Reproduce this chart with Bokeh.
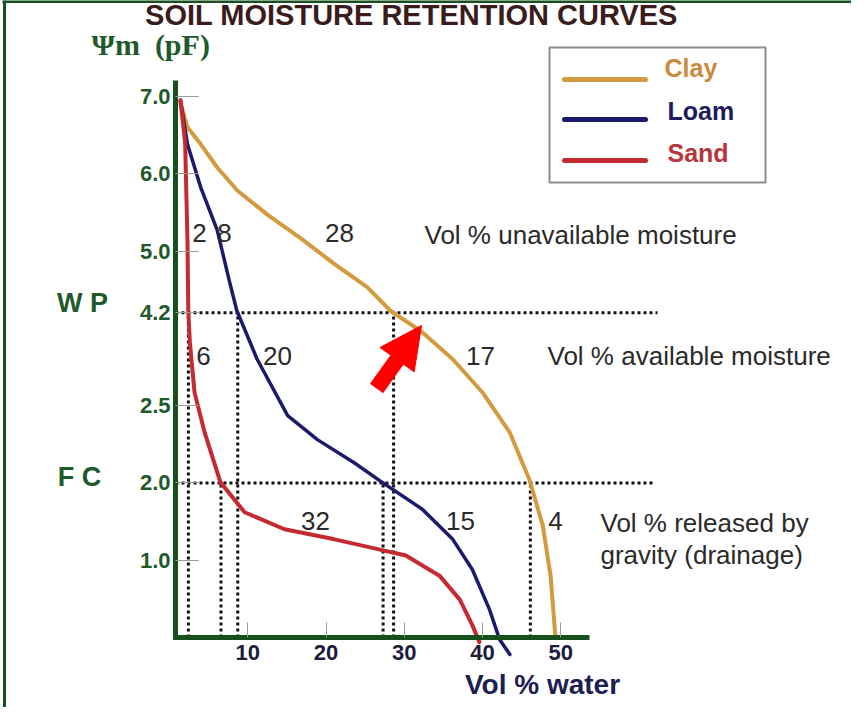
import numpy as np
from bokeh.plotting import figure
from bokeh.models import Range1d, LinearAxis, FixedTicker, Arrow, NormalHead, Grid
from bokeh.core.properties import value
from bokeh.embed import file_html
from bokeh.resources import INLINE

# ---------------- data ----------------
clay_x = [1.4, 2.3, 4.0, 6.1, 8.7, 12.5, 16.7, 21.1, 25.3, 28.2, 32.3, 36.2, 40.0, 43.5, 46.0, 47.7, 48.7, 49.3]
clay_y = [6.92, 6.60, 6.38, 6.08, 5.78, 5.47, 5.17, 4.83, 4.53, 4.23, 3.95, 3.60, 3.17, 2.65, 2.04, 1.45, 0.80, 0.03]

loam_x = [1.4, 2.3, 4.0, 6.1, 7.7, 8.6, 11.2, 15.1, 18.9, 23.6, 27.0, 32.3, 36.2, 38.7, 40.9, 42.2, 43.5]
loam_y = [6.95, 6.38, 5.82, 5.27, 4.59, 4.23, 3.60, 2.87, 2.56, 2.26, 2.02, 1.66, 1.27, 0.88, 0.36, -0.03, -0.22]

sand_x = [1.4, 2.0, 2.3, 2.4, 2.6, 3.2, 4.5, 6.5, 9.6, 14.7, 21.1, 25.9, 30.2, 34.5, 37.1, 38.7, 39.6]
sand_y = [6.95, 6.40, 5.11, 4.23, 3.82, 3.17, 2.65, 2.01, 1.62, 1.40, 1.27, 1.16, 1.06, 0.80, 0.49, 0.16, -0.06]

soil_names = ["Clay", "Loam", "Sand"]
wilting_point = 4.2
field_capacity = 2.0

xtick_vals = [10, 20, 30, 40, 50]
ytick_vals = [7.0, 6.0, 5.0, 4.2, 3.0, 2.0, 1.0]
ytick_labels = ["7.0", "6.0", "5.0", "4.2", "2.5", "2.0", "1.0"]

unavailable_vals = ["2", "8", "28"]
available_vals = ["6", "20", "17"]
drainage_vals = ["32", "15", "4"]

# ---------------- styling ----------------
CLAY = "#d49a40"
LOAM = "#1c1a6b"
SAND = "#c42a30"
GREEN = "#1e5a2a"
AXIS_GREEN = "#17501c"
TEXT = "#2a2a2a"
SANS = "Liberation Sans"

W, H = 851, 707
# reference pixel -> data helpers (layout only)
SX, X0 = 7.825, 177.0
SY, Y0 = 77.3, 645.0
def px2x(X):
    return (X - X0) / SX
def px2y(Y):
    return (Y0 - Y) / SY

p = figure(width=W, height=H, output_backend="svg", toolbar_location=None,
           x_range=Range1d(px2x(8), px2x(8 + W)), y_range=Range1d(px2y(8 + H), px2y(8)),
           x_axis_location=None, y_axis_location=None, min_border=0,
           outline_line_color=None, background_fill_color="white", border_fill_color="white")
for r in list(p.center):
    if isinstance(r, Grid):
        r.visible = False

AX_X = px2x(183)

xaxis = LinearAxis(fixed_location=0, bounds=(AX_X - 0.3, px2x(597)),
                   ticker=FixedTicker(ticks=xtick_vals))
xaxis.axis_line_color = AXIS_GREEN
xaxis.axis_line_width = 5
xaxis.major_tick_in = 15
xaxis.major_tick_out = 0
xaxis.minor_tick_in = 0
xaxis.minor_tick_out = 0
xaxis.major_tick_line_color = "#9a9a9a"
xaxis.major_tick_line_width = 1
xaxis.major_label_text_font = SANS
xaxis.major_label_text_font_size = "22px"
xaxis.major_label_text_font_style = "bold"
xaxis.major_label_text_color = "#1c1c3a"
xaxis.major_label_standoff = 7
p.add_layout(xaxis, "below")

yaxis = LinearAxis(fixed_location=AX_X, bounds=(px2y(647), px2y(88)),
                   ticker=FixedTicker(ticks=ytick_vals))
yaxis.axis_line_color = AXIS_GREEN
yaxis.axis_line_width = 5
yaxis.major_tick_in = 23
yaxis.major_tick_out = 0
yaxis.minor_tick_in = 0
yaxis.minor_tick_out = 0
yaxis.major_tick_line_color = "#9a9a9a"
yaxis.major_tick_line_width = 1
yaxis.major_label_overrides = dict(zip(ytick_vals, ytick_labels))
yaxis.major_label_text_font = SANS
yaxis.major_label_text_font_size = "22px"
yaxis.major_label_text_font_style = "bold"
yaxis.major_label_text_color = GREEN
yaxis.major_label_text_baseline = "bottom"
yaxis.major_label_standoff = 5
p.add_layout(yaxis, "left")

# ---------------- WP / FC dotted guide lines ----------------
def cross_x(xs, ys, level):
    return float(np.interp(level, ys[::-1], xs[::-1]))

curves = [(clay_x, clay_y), (loam_x, loam_y), (sand_x, sand_y)]
wp_x = [cross_x(np.array(cx), np.array(cy), wilting_point) for cx, cy in curves]
fc_x = [cross_x(np.array(cx), np.array(cy), field_capacity) for cx, cy in curves]

DOT = dict(line_color="#111111", line_width=3, line_dash="3 3")
p.segment(x0=[AX_X, AX_X], y0=[wilting_point, field_capacity],
          x1=[px2x(665), px2x(662)], y1=[wilting_point, field_capacity], **DOT)
p.segment(x0=wp_x, y0=[0] * 3, x1=wp_x, y1=[wilting_point] * 3, **DOT)
p.segment(x0=fc_x, y0=[0] * 3, x1=fc_x, y1=[field_capacity] * 3, **DOT)

# ---------------- curves ----------------
p.line(clay_x, clay_y, line_color=CLAY, line_width=4, line_join="round", line_cap="round")
p.line(loam_x, loam_y, line_color=LOAM, line_width=3.5, line_join="round", line_cap="round")
p.line(sand_x, sand_y, line_color=SAND, line_width=4, line_join="round", line_cap="round")

# ---------------- texts ----------------
def txt(X, Y, s, size, color, bold=False, align="left", font=SANS):
    p.text(x=[px2x(X)], y=[px2y(Y)], text=[s], text_font=value(font),
           text_font_size=f"{size}px", text_color=color,
           text_font_style="bold" if bold else "normal",
           text_align=align, text_baseline="middle")

txt(419, 22, "SOIL MOISTURE RETENTION CURVES", 29, "#3a1c1c", bold=True, align="center")
txt(99, 52, "\u03a8m\u00a0\u00a0(pF)", 30, GREEN, bold=True, font="Liberation Serif")
txt(90, 310, "W P", 27, GREEN, bold=True, align="center")
txt(87, 484, "F C", 27, GREEN, bold=True, align="center")
txt(550, 692, "Vol % water", 28, "#1c2050", bold=True, align="center")

# region numbers
for s, X in zip(unavailable_vals, [207, 232, 347]):
    txt(X, 240, s, 26, TEXT, align="center")
for s, X in zip(available_vals, [211, 285, 488]):
    txt(X, 363, s, 26, TEXT, align="center")
for s, X in zip(drainage_vals, [323, 468, 563]):
    txt(X, 528, s, 26, TEXT, align="center")

txt(432, 242, "Vol % unavailable moisture", 26, TEXT)
txt(555, 363, "Vol % available moisture", 26, TEXT)
txt(608, 530, "Vol % released by", 26, TEXT)
txt(608, 562, "gravity (drainage)", 26, TEXT)

# ---------------- legend (drawn) ----------------
p.quad(left=[px2x(557)], right=[px2x(773)], top=[px2y(55)], bottom=[px2y(190)],
       fill_color="white", line_color="#8c8c8c", line_width=2)
leg_colors = [CLAY, LOAM, SAND]
leg_text_colors = ["#c98a3e", "#1c1c5c", "#b8353b"]
for i, (name, c, tc) in enumerate(zip(soil_names, leg_colors, leg_text_colors)):
    Yl = [87, 127, 168][i]
    p.segment(x0=[px2x(572)], y0=[px2y(Yl)], x1=[px2x(653)], y1=[px2y(Yl)],
              line_color=c, line_width=5, line_cap="round")
    txt([672, 675, 675][i], [75, 118, 160][i], name, 25, tc, bold=True)

# ---------------- red arrow ----------------
p.add_layout(Arrow(x_start=px2x(384), y_start=px2y(396), x_end=px2x(429), y_end=px2y(333),
                   line_color="#ff0000", line_width=16,
                   end=NormalHead(size=42, fill_color="#ff0000", line_color="#ff0000", line_width=1)))

# ---------------- frame border ----------------
p.segment(x0=[px2x(12)], y0=[px2y(8)], x1=[px2x(12)], y1=[px2y(715)], line_color=AXIS_GREEN, line_width=3)
p.segment(x0=[px2x(10)], y0=[px2y(9)], x1=[px2x(859)], y1=[px2y(9)], line_color=AXIS_GREEN, line_width=3)

open("out.html", "w").write(file_html(p, INLINE))
